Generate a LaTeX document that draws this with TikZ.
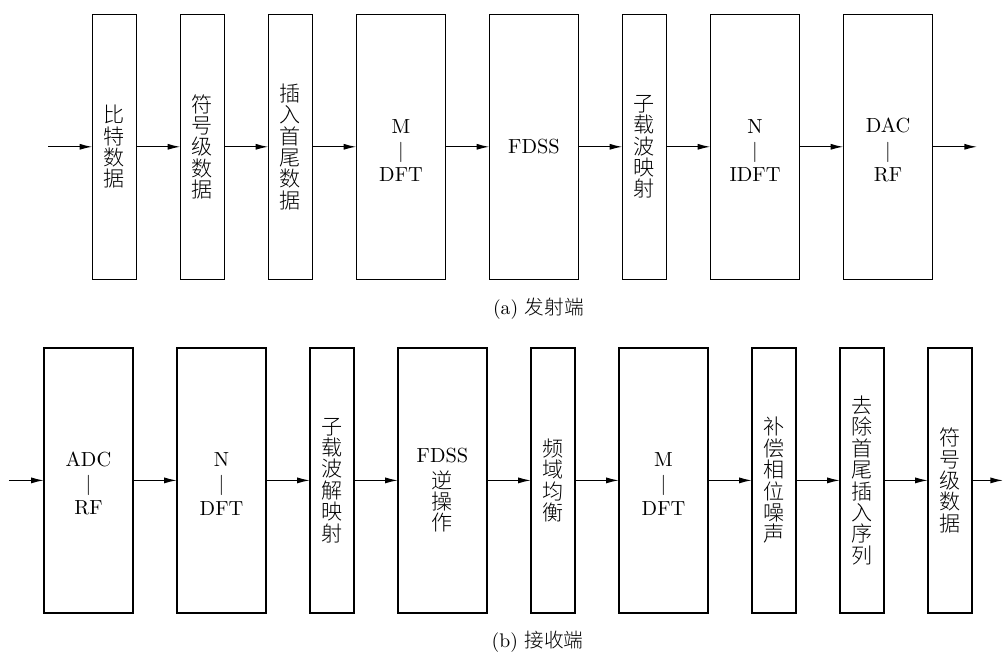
\documentclass[tikz,border=0pt]{standalone}
\usepackage{fontspec}
\newfontfamily\cjk{Noto Sans CJK SC}[UprightFont={* Light}]
\newfontfamily\lmten{lmroman10-regular}[Extension=.otf]
\usetikzlibrary{positioning, arrows.meta}

\begin{document}
\begin{tikzpicture}[
    node distance=1.1cm,
    blk/.style={rectangle, draw, line width=0.9pt, minimum height=6.625cm, inner sep=0pt, outer sep=0pt, align=center},
    slim/.style={blk, minimum width=1.1cm, font=\cjk\fontsize{15}{15.2}\selectfont},
    wide/.style={blk, minimum width=2.225cm, font=\lmten\fontsize{14.5}{17.2}\selectfont},
    arrow/.style={-{Latex[length=3.2mm, width=1.5mm]}, line width=0.9pt},
    subcap/.style={font=\lmten\fontsize{14}{16}\selectfont}
]
\useasboundingbox (0,0) rectangle (25.1,-16.375);

% (a) transmitter
\node[slim] (bit) at (2.8625,-3.67) {比\\特\\数\\据};
\node[slim, right=of bit] (sym) {符\\号\\级\\数\\据};
\node[slim, right=of sym] (ins) {插\\入\\首\\尾\\数\\据};
\node[wide, right=of ins] (mdft) {\rule{0pt}{15pt}M\\$|$\\DFT};
\node[wide, right=of mdft] (fdss) {FDSS};
\node[slim, right=of fdss] (map) {子\\载\\波\\映\\射};
\node[wide, right=of map] (nidft) {\rule{0pt}{15pt}N\\$|$\\IDFT};
\node[wide, right=of nidft] (dac) {\rule{0pt}{15pt}DAC\\$|$\\RF};

\coordinate (tin) at (1.2,-3.67);
\coordinate (tout) at (24.43,-3.67);

\draw[arrow] (tin) -- (bit);
\draw[arrow] (bit) -- (sym);
\draw[arrow] (sym) -- (ins);
\draw[arrow] (ins) -- (mdft);
\draw[arrow] (mdft) -- (fdss);
\draw[arrow] (fdss) -- (map);
\draw[arrow] (map) -- (nidft);
\draw[arrow] (nidft) -- (dac);
\draw[arrow] (dac) -- (tout);

\node[subcap] (capa) at (13.46,-7.725) {(a) {\cjk 发射端}};

% (b) receiver
\node[wide] (adc) at (2.2125,-12.01) {\rule{0pt}{15pt}ADC\\$|$\\RF};
\node[wide, right=of adc] (ndft) {\rule{0pt}{15pt}N\\$|$\\DFT};
\node[slim, right=of ndft] (demap) {子\\载\\波\\解\\映\\射};
\node[wide, right=of demap, font=\lmten\fontsize{14.5}{15.2}\selectfont] (ifdss)
    {\rule{0pt}{24pt}FDSS\\[3.3pt]{\cjk\fontsize{15}{15.2}\selectfont 逆}\\{\cjk\fontsize{15}{15.2}\selectfont 操}\\{\cjk\fontsize{15}{15.2}\selectfont 作}};
\node[slim, right=of ifdss] (eq) {频\\域\\均\\衡};
\node[wide, right=of eq] (mdft2) {\rule{0pt}{15pt}M\\$|$\\DFT};
\node[slim, right=of mdft2] (pn) {补\\偿\\相\\位\\噪\\声};
\node[slim, right=of pn] (rem) {去\\除\\首\\尾\\插\\入\\序\\列};
\node[slim, right=of rem] (sym2) {符\\号\\级\\数\\据};

\coordinate (rin) at (0.22,-12.01);
\coordinate (rout) at (25.08,-12.01);

\draw[arrow] (rin) -- (adc);
\draw[arrow] (adc) -- (ndft);
\draw[arrow] (ndft) -- (demap);
\draw[arrow] (demap) -- (ifdss);
\draw[arrow] (ifdss) -- (eq);
\draw[arrow] (eq) -- (mdft2);
\draw[arrow] (mdft2) -- (pn);
\draw[arrow] (pn) -- (rem);
\draw[arrow] (rem) -- (sym2);
\draw[arrow] (sym2) -- (rout);

\node[subcap] (capb) at (13.44,-16.05) {(b) {\cjk 接收端}};
\end{tikzpicture}
\end{document}
